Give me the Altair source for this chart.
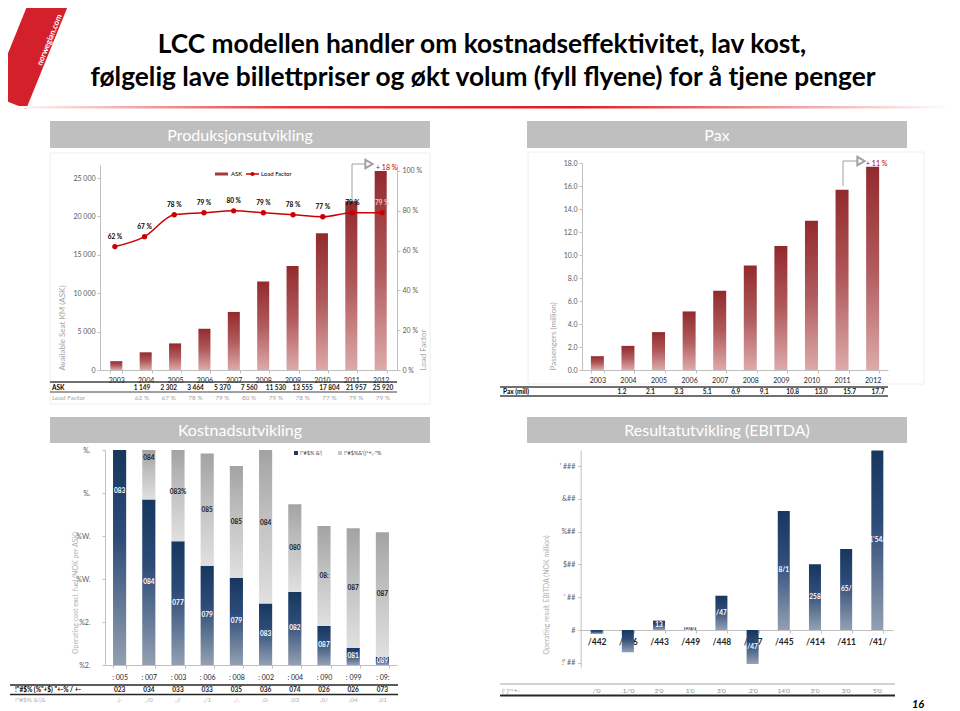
import json
import altair as alt
import pandas as pd

# ---------------- data ----------------
years = ["2003", "2004", "2005", "2006", "2007", "2008", "2009", "2010", "2011", "2012"]

ask_values = [1149, 2302, 3464, 5370, 7560, 11530, 13555, 17804, 21957, 25920]
ask_table = ["1 149", "2 302", "3 464", "5 370", "7 560", "11 530", "13 555", "17 804", "21 957", "25 920"]
load_factor = [62, 67, 78, 79, 80, 79, 78, 77, 79, 79]

pax_values = [1.2, 2.1, 3.3, 5.1, 6.9, 9.1, 10.8, 13.0, 15.7, 17.7]
pax_table = ["1.2", "2.1", "3.3", "5.1", "6.9", "9.1", "10.8", "13.0", "15.7", "17.7"]

cost_lower = [8.1, 3.85, 2.88, 2.31, 2.03, 1.43, 1.70, 0.91, 0.40, 0.19]
cost_total = [8.5, 5.77, 5.17, 4.92, 4.63, 5.17, 3.74, 3.23, 3.18, 3.09]
cost_upper_labels = ["", "084", "083%", "085", "085", "084", "080", "08:", "087", "087"]
cost_lower_labels = ["083", "084", "077", "079", "079", "083", "082", "087", "081", "089"]
cost_x_labels = [": 005", ": 007", ": 003", ": 006", ": 008", ": 002", ": 004", ": 090", ": 099", ": 09:"]
cost_y_labels = ["%2.", "%2.", "%W.", "%W.", "%.", "%."]
cost_row1 = ["023", "034", "033", "033", "035", "036", "074", "026", "026", "073"]
cost_row2 = [",|-", ",/0", ",//", ",/1", ",/,", ",0-", ",03", ",0/", ",04", ",01"]
cost_legend = ["!\"#$% &'(", "!\"#$%&'()*+,-\"%"]

ebitda_values = [-24, -136, 57, 16, 209, -207, 726, 401, 494, 1095]
ebitda_labels = ["", "", "13", "0/9", "/47", "/47", "8/1", "258", "65/", "1'54/"]
ebitda_x_labels = ["/442", "/446", "/443", "/449", "/448", "/447", "/445", "/414", "/411", "/41/"]
ebitda_ticks = [-200, 0, 200, 400, 600, 800, 1000]
ebitda_y_labels = ["!' ##", "#", "' ##", "$##", "%##", "&##", "' ###"]
ebitda_row = ["/'0", ".1/'0", "2'0", "1'0", "3'0", ".2'0", "14'0", "3'0", "3'0", "5'0"]

# ---------------- layout helpers ----------------
W, H = 944, 703
F = "Lato, Open Sans, sans-serif"
dummy = pd.DataFrame({"k": [0]})


def px(v):
    return v - 8


def txt(s, x, y, size=7, color="#000000", weight="normal", align="left", angle=0,
        style="normal", baseline="middle", font=F):
    return alt.Chart(dummy).mark_text(
        text=s, fontSize=size, color=color, fontWeight=weight, align=align,
        angle=angle, baseline=baseline, font=font, fontStyle=style
    ).encode(x=alt.value(px(x)), y=alt.value(px(y)))


def hrule(x1, x2, y, color="#404040", w=1.0):
    return alt.Chart(dummy).mark_rule(color=color, strokeWidth=w).encode(
        x=alt.value(px(x1)), x2=alt.value(px(x2)), y=alt.value(px(y)))


def vrule(x, y1, y2, color="#A0A0A0", w=1.0):
    return alt.Chart(dummy).mark_rule(color=color, strokeWidth=w).encode(
        x=alt.value(px(x)), y=alt.value(px(y1)), y2=alt.value(px(y2)))


def box(x1, x2, y1, y2, fill="#BFBFBF", stroke=None, fill_opacity=1.0):
    kw = dict(fill=fill, fillOpacity=fill_opacity)
    if stroke:
        kw["stroke"] = stroke
    return alt.Chart(dummy).mark_rect(**kw).encode(
        x=alt.value(px(x1)), x2=alt.value(px(x2)), y=alt.value(px(y1)), y2=alt.value(px(y2)))


def grad(stops):
    return alt.LinearGradient(gradient="linear", x1=0, x2=0, y1=0, y2=1,
                              stops=[alt.GradientStop(color=c, offset=o) for c, o in stops])


def lookup_expr(labels, keys, key_expr):
    return f"{json.dumps(labels)}[indexof({json.dumps(keys)}, {key_expr})]"


red_grad = grad([("#922A2D", 0), ("#B05A5C", 0.5), ("#DDAAAA", 1)])
navy_grad = grad([("#17375E", 0), ("#2D4B78", 0.4), ("#93A0B2", 1)])
gray_grad = grad([("#A3A3A3", 0), ("#C4C4C4", 0.5), ("#E0E0E0", 1)])

axis_common = dict(labelFont=F, titleFont=F, grid=False, domainColor="#BFBFBF",
                   tickColor="#BFBFBF", tickSize=3, labelColor="#595959", labelFontSize=7)


def ax_common(**over):
    d = dict(axis_common)
    d.update(over)
    return d


layers = []

# ---------------- title area ----------------
layers.append(txt("▌", 46, 60, size=96, color="#D3202A", angle=22, align="center",
                  font="DejaVu Sans"))
layers.append(txt("norwegian.com", 50, 40, size=8, color="#FFFFFF", weight="bold",
                  angle=292, align="center"))
layers.append(txt("LCC modellen handler om kostnadseffektivitet, lav kost,", 482, 53, size=26.3,
                  weight="bold", align="center", baseline="alphabetic"))
layers.append(txt("følgelig lave billettpriser og økt volum (fyll flyene) for å tjene penger", 483, 86,
                  size=26.3, weight="bold", align="center", baseline="alphabetic"))
line_grad = alt.LinearGradient(gradient="linear", x1=0, x2=1, y1=0, y2=0, stops=[
    alt.GradientStop(color="#FFFFFF", offset=0), alt.GradientStop(color="#E3393C", offset=0.3),
    alt.GradientStop(color="#D91E22", offset=0.6), alt.GradientStop(color="#FFFFFF", offset=1)])
layers.append(alt.Chart(dummy).mark_rect(color=line_grad).encode(
    x=alt.value(0), x2=alt.value(W), y=alt.value(px(106)), y2=alt.value(px(108.5))))

# headers
for (x1, x2, y1, y2, label) in [(50, 430, 121, 148, "Produksjonsutvikling"),
                                (527, 907, 121, 148, "Pax"),
                                (50, 430, 417, 443, "Kostnadsutvikling"),
                                (527, 907, 417, 443, "Resultatutvikling (EBITDA)")]:
    layers.append(box(x1, x2, y1, y2, fill="#BFBFBF"))
    layers.append(txt(label, (x1 + x2) / 2, (y1 + y2) / 2 + 1, size=16, color="#FFFFFF",
                      align="center"))

# faint frames (no fill so axes stay visible)
layers.append(box(50, 430, 153, 404, fill="#FFFFFF", stroke="#EEEEEE", fill_opacity=0))
layers.append(box(528, 924, 152, 384, fill="#FFFFFF", stroke="#EEEEEE", fill_opacity=0))

# ---------------- panel A: Produksjonsutvikling ----------------
dfA = pd.DataFrame({"year": years, "ask": ask_values, "lf": load_factor, "ask_t": ask_table})
xA_scale = alt.Scale(domain=years, range=[px(100), px(397)], paddingInner=0.59, paddingOuter=0.35)
yA_scale = alt.Scale(domain=[0, 26693], range=[px(370), px(165)], nice=False, zero=False)
yR_scale = alt.Scale(domain=[0, 1.03], range=[px(370), px(165)], nice=False, zero=False)

layers.append(alt.Chart(dfA).mark_bar(color=red_grad).encode(
    x=alt.X("year:N", scale=xA_scale, axis=alt.Axis(**ax_common(
        orient="bottom", offset=px(370) - H, title=None, labelAngle=0, tickBand="extent",
        labelPadding=3, labelColor="#262626"))),
    y=alt.Y("ask:Q", scale=yA_scale, axis=alt.Axis(**ax_common(
        orient="left", offset=-px(100), values=[0, 5000, 10000, 15000, 20000, 25000],
        labelExpr="replace(format(datum.value, ','), ',', ' ')",
        title="Available Seat KM (ASK)", titleAnchor="start", titleFontSize=8,
        titleFontWeight="normal", titleColor="#A6A6A6", titlePadding=6)))))

lfA = alt.Chart(dfA).transform_calculate(lff="datum.lf / 100", lbl="datum.lf + ' %'")
layers.append(lfA.mark_line(color="#CC0000", strokeWidth=1.5, interpolate="monotone").encode(
    x=alt.X("year:N", scale=xA_scale, axis=None),
    y=alt.Y("lff:Q", scale=yR_scale, axis=alt.Axis(**ax_common(
        orient="right", offset=px(397) - W, values=[0, 0.2, 0.4, 0.6, 0.8, 1.0],
        labelExpr="format(datum.value * 100, 'd') + ' %'",
        title="Load Factor", titleAnchor="start", titleAngle=270, titleFontSize=8,
        titleFontWeight="normal", titleColor="#A6A6A6", titlePadding=6)))))
layers.append(lfA.mark_point(filled=True, size=28, color="#CC0000", opacity=1).encode(
    x=alt.X("year:N", scale=xA_scale, axis=None),
    y=alt.Y("lff:Q", scale=yR_scale, axis=None)))
layers.append(lfA.mark_text(dy=-10, fontSize=6.5, fontWeight="bold", font=F).encode(
    x=alt.X("year:N", scale=xA_scale, axis=None),
    y=alt.Y("lff:Q", scale=yR_scale, axis=None),
    text="lbl:N",
    color=alt.condition(alt.datum.year == "2012", alt.value("#F4C8C8"), alt.value("#000000"))))

# legend A
layers.append(box(215, 228, 172.5, 175.5, fill="#A33A3C"))
layers.append(txt("ASK", 231, 174, size=6))
layers.append(hrule(246, 259, 174, color="#CC0000", w=1.5))
layers.append(alt.Chart(dummy).mark_point(filled=True, size=18, color="#CC0000", opacity=1).encode(
    x=alt.value(px(252.5)), y=alt.value(px(174))))
layers.append(txt("Load Factor", 261, 174, size=6))

# arrow A
layers.append(vrule(352, 200, 164))
layers.append(hrule(352, 366, 164, color="#A0A0A0"))
layers.append(alt.Chart(dummy).mark_point(shape="triangle-right", size=70, color="#A0A0A0",
                                          filled=False, opacity=1).encode(
    x=alt.value(px(369)), y=alt.value(px(164))))
layers.append(txt("+ 18 %", 376, 168, size=7, color="#C00000"))

# table A
xAt_scale = alt.Scale(type="point", domain=years, range=[px(142), px(383)], padding=0)
layers.append(hrule(50, 397, 382, color="#404040", w=1.5))
layers.append(txt("ASK", 52, 388, size=6.5, weight="bold"))
layers.append(alt.Chart(dfA).mark_text(fontSize=6.5, fontWeight="bold", font=F, color="#1A1A1A").encode(
    x=alt.X("year:N", scale=xAt_scale, axis=None), y=alt.value(px(388)), text="ask_t:N"))
layers.append(hrule(50, 397, 392, color="#404040", w=1))
layers.append(txt("Load Factor", 52, 398, size=6.5, color="#A6A6A6"))
layers.append(lfA.mark_text(fontSize=6.5, font=F, color="#A6A6A6").encode(
    x=alt.X("year:N", scale=xAt_scale, axis=None), y=alt.value(px(398)), text="lbl:N"))

# ---------------- panel B: Pax ----------------
dfB = pd.DataFrame({"year": years, "pax": pax_values, "pax_t": pax_table})
xB_scale = alt.Scale(domain=years, range=[px(582), px(888)], paddingInner=0.575, paddingOuter=0.29)
yB_scale = alt.Scale(domain=[0, 18], range=[px(370), px(163.3)], nice=False, zero=False)
layers.append(alt.Chart(dfB).mark_bar(color=red_grad).encode(
    x=alt.X("year:N", scale=xB_scale, axis=alt.Axis(**ax_common(
        orient="bottom", offset=px(370) - H, title=None, labelAngle=0, tickBand="extent",
        labelPadding=3, labelColor="#262626"))),
    y=alt.Y("pax:Q", scale=yB_scale, axis=alt.Axis(**ax_common(
        orient="left", offset=-px(582), values=[0, 2, 4, 6, 8, 10, 12, 14, 16, 18], format=".1f",
        title="Passengers (million)", titleAnchor="start", titleFontSize=8,
        titleFontWeight="normal", titleColor="#A6A6A6", titlePadding=6)))))

# arrow B
layers.append(vrule(843, 186, 161))
layers.append(hrule(843, 858, 161, color="#A0A0A0"))
layers.append(alt.Chart(dummy).mark_point(shape="triangle-right", size=70, color="#A0A0A0",
                                          filled=False, opacity=1).encode(
    x=alt.value(px(861)), y=alt.value(px(161))))
layers.append(txt("+ 11 %", 866, 164, size=7, color="#C00000"))

# table B
xBt_scale = alt.Scale(type="point", domain=years, range=[px(622), px(878)], padding=0)
layers.append(hrule(500, 888, 387, color="#404040", w=1.5))
layers.append(txt("Pax (mill)", 503, 392, size=6.5, weight="bold"))
layers.append(alt.Chart(dfB).mark_text(fontSize=6.5, fontWeight="bold", font=F, color="#1A1A1A").encode(
    x=alt.X("year:N", scale=xBt_scale, axis=None), y=alt.value(px(392)), text="pax_t:N"))
layers.append(hrule(500, 888, 396, color="#404040", w=1.5))

# ---------------- panel C: Kostnadsutvikling ----------------
dfC = pd.DataFrame({"year": years, "lower": cost_lower, "total": cost_total,
                    "up_l": cost_upper_labels, "lo_l": cost_lower_labels,
                    "r1": cost_row1, "r2": cost_row2})
xC_scale = alt.Scale(domain=years, range=[px(105), px(397)], paddingInner=0.55, paddingOuter=0.275)
yC_scale = alt.Scale(domain=[0, 5], range=[px(665), px(450)], nice=False, zero=False)
cC = alt.Chart(dfC).transform_calculate(
    lo_c="min(datum.lower, 5)", tot_c="min(datum.total, 5)",
    lo_mid="datum.lower / 2", up_mid="(datum.lower + datum.total) / 2")

layers.append(cC.mark_bar(color=navy_grad).encode(
    x=alt.X("year:N", scale=xC_scale, axis=alt.Axis(**ax_common(
        orient="bottom", offset=px(665) - H, title=None, labelAngle=0, tickBand="extent",
        labelPadding=5, labelColor="#262626",
        labelExpr=lookup_expr(cost_x_labels, years, "datum.value")))),
    y=alt.Y("lo_c:Q", scale=yC_scale, axis=alt.Axis(**ax_common(
        orient="left", offset=-px(105), values=[0, 1, 2, 3, 4, 5],
        labelExpr=f"{json.dumps(cost_y_labels)}[datum.value]", labelPadding=12,
        title=None)))))
layers.append(cC.mark_bar(color=gray_grad).encode(
    x=alt.X("year:N", scale=xC_scale, axis=None),
    y=alt.Y("lo_c:Q", scale=yC_scale, axis=None),
    y2="tot_c:Q"))
layers.append(cC.transform_filter("datum.up_mid < 4.95 && datum.up_l != ''").mark_text(
    fontSize=6.5, fontWeight="bold", font=F, color="#1A1A1A").encode(
    x=alt.X("year:N", scale=xC_scale, axis=None),
    y=alt.Y("up_mid:Q", scale=yC_scale, axis=None), text="up_l:N"))
layers.append(cC.mark_text(fontSize=6.5, fontWeight="bold", font=F, color="#FFFFFF").encode(
    x=alt.X("year:N", scale=xC_scale, axis=None),
    y=alt.Y("lo_mid:Q", scale=yC_scale, axis=None), text="lo_l:N"))

layers.append(txt("Operating cost excl. fuel (NOK per ASK)", 76, 593, size=7, color="#B0B0B0",
                  align="center", angle=270))
# legend C
layers.append(box(294, 298, 451, 455, fill="#1F3A66"))
layers.append(txt(cost_legend[0], 300, 453, size=5.5, color="#404040"))
layers.append(box(338, 342, 451, 455, fill="#C8C8C8"))
layers.append(txt(cost_legend[1], 344, 453, size=5.5, color="#404040"))

# table C
layers.append(hrule(10, 398, 685, color="#262626", w=1.5))
layers.append(txt("!\"#$% (%\"+$) \"+-% / +-", 15, 690, size=6.5, weight="bold"))
layers.append(alt.Chart(dfC).mark_text(fontSize=6.5, fontWeight="bold", font=F, color="#1A1A1A").encode(
    x=alt.X("year:N", scale=xC_scale, axis=None), y=alt.value(px(690)), text="r1:N"))
layers.append(hrule(10, 398, 694.5, color="#262626", w=1.5))
layers.append(txt("!\"#$% &'(&", 15, 700, size=6.5, color="#B0B0B0"))
layers.append(alt.Chart(dfC).mark_text(fontSize=6.5, font=F, color="#B0B0B0").encode(
    x=alt.X("year:N", scale=xC_scale, axis=None), y=alt.value(px(700)), text="r2:N"))

# ---------------- panel D: Resultatutvikling (EBITDA) ----------------
dfD = pd.DataFrame({"year": years, "ebitda": ebitda_values, "lbl": ebitda_labels, "row": ebitda_row})
xD_scale = alt.Scale(domain=years, range=[px(581), px(893)], paddingInner=0.615, paddingOuter=0.31)
yD_scale = alt.Scale(domain=[-225.6, 1097.6], range=[px(667), px(450)], nice=False, zero=False)
cD = alt.Chart(dfD).transform_calculate(mid="datum.ebitda / 2")
layers.append(cD.mark_bar(color=navy_grad).encode(
    x=alt.X("year:N", scale=xD_scale, axis=alt.Axis(**ax_common(
        orient="bottom", offset=px(630) - H, title=None, labelAngle=0, tickBand="extent",
        labelPadding=4, labelColor="#1F1F1F", labelFontWeight="bold", labelFontSize=8.5,
        labelExpr=lookup_expr(ebitda_x_labels, years, "datum.value")))),
    y=alt.Y("ebitda:Q", scale=yD_scale, axis=alt.Axis(**ax_common(
        orient="left", offset=-px(580.7), values=ebitda_ticks,
        labelExpr=f"{json.dumps(ebitda_y_labels)}[(datum.value + 200) / 200]", labelPadding=3,
        title=None)))))
layers.append(cD.transform_filter("datum.lbl != ''").mark_text(
    fontSize=6.5, fontWeight="bold", font=F, color="#FFFFFF").encode(
    x=alt.X("year:N", scale=xD_scale, axis=None),
    y=alt.Y("mid:Q", scale=yD_scale, axis=None), text="lbl:N"))
layers.append(txt("Operating result EBITDA (NOK million)", 547, 595, size=7, color="#B0B0B0",
                  align="center", angle=270))

# table D
layers.append(hrule(500, 895, 684, color="#A6A6A6", w=1))
layers.append(txt("(' )\"*+-", 502, 690.5, size=6.5, color="#8C8C8C"))
layers.append(alt.Chart(dfD).mark_text(fontSize=6.5, font=F, color="#8C8C8C").encode(
    x=alt.X("year:N", scale=xD_scale, axis=None), y=alt.value(px(690.5)), text="row:N"))
layers.append(hrule(500, 895, 695.5, color="#262626", w=2))

# page number
layers.append(txt("16", 918, 705, size=11, weight="bold", style="italic", align="center"))

chart = alt.layer(*layers).resolve_scale(x="independent", y="independent").properties(
    width=W, height=H, padding=0, autosize=alt.AutoSizeParams(type="none"),
    background="white"
).configure_view(stroke=None)

chart.save("out.html", embed_options={"renderer": "svg", "actions": False})
